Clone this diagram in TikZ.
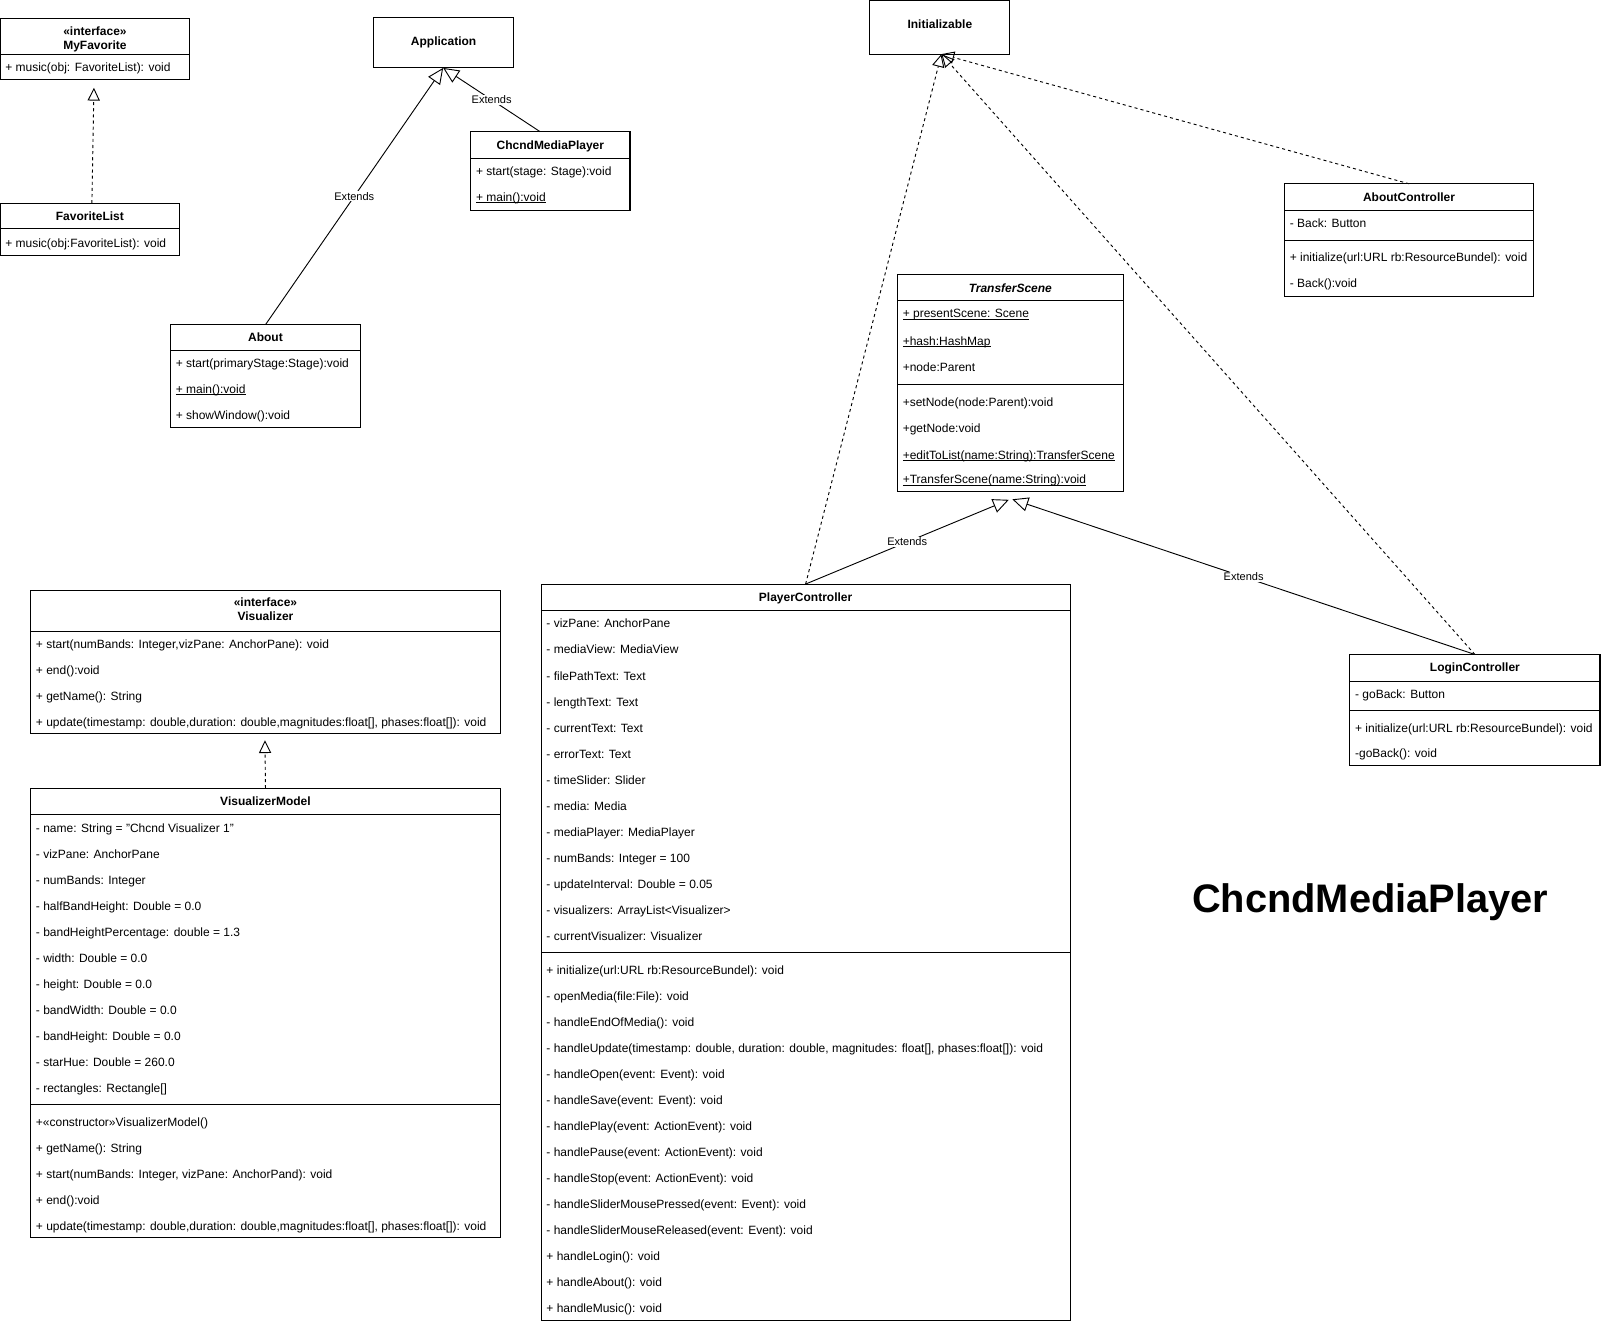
\documentclass[tikz,border=0pt]{standalone}
\usepackage{fontspec}
\setmainfont{Liberation Sans}
\usetikzlibrary{arrows.meta}
\newcommand{\ulin}[1]{\setbox0\hbox{#1}\rlap{\rule[-1.6pt]{\wd0}{0.65pt}}\box0}
\tikzset{
  box/.style={draw=black, line width=1pt, anchor=north west, inner sep=0pt, outer sep=0pt},
  rowtxt/.style={anchor=west, inner sep=0pt, text height=8.5pt, text depth=0.5pt, font=\fontsize{11.75}{14}\selectfont},
  hdr/.style={anchor=center, inner sep=0pt, text height=8.5pt, text depth=0.5pt, font=\fontsize{11.75}{14}\selectfont\bfseries},
  divline/.style={line width=1pt},
  gen/.style={line width=0.9pt, -{Triangle[open,length=15.5pt,width=14pt,line width=0.9pt]}},
  real/.style={line width=0.9pt, dash pattern=on 3pt off 3pt, -{Triangle[open,length=12.5pt,width=12pt,line width=0.9pt]}},
  lbl/.style={fill=white, inner sep=1pt, font=\fontsize{10.8}{12}\selectfont},
}
\begin{document}
\begin{tikzpicture}[x=1pt,y=-1pt]
\useasboundingbox (0,0) rectangle (1568,1296);

% ---------- MyFavorite ----------
\node[box, minimum width=185.5pt, minimum height=60pt] (myfav) at (0.5,18) {};
\node[hdr] (myfavS) at (93,31) {«interface»};
\node[hdr] (myfavN) at (93,44) {MyFavorite};
\draw[divline] (0.5,53) -- (186,53);
\node[rowtxt] (myfavR1) at (5,66) {+ music(obj: FavoriteList): void};

% ---------- FavoriteList ----------
\node[box, minimum width=175.5pt, minimum height=51pt] (favlist) at (0.5,199) {};
\node[hdr] (favlistN) at (88,212) {FavoriteList};
\draw[divline] (0.5,224) -- (176,224);
\node[rowtxt] (favlistR1) at (5,238) {+ music(obj:FavoriteList): void};

% ---------- Application ----------
\node[box, minimum width=137pt, minimum height=49pt] (app) at (366,17) {};
\node[hdr] (appN) at (434.5,41) {Application};

% ---------- ChcndMediaPlayer class ----------
\node[box, minimum width=156pt, minimum height=77pt] (cmp) at (461,129) {};
\node[hdr] (cmpN) at (539,142) {ChcndMediaPlayer};
\draw[divline] (461,155) -- (617,155);
\node[rowtxt] (cmpR1) at (466,168) {+ start(stage: Stage):void};
\node[rowtxt] (cmpR2) at (466,193) {\ulin{+ main():void}};

% ---------- About ----------
\node[box, minimum width=186pt, minimum height=101pt] (about) at (167,318) {};
\node[hdr] (aboutN) at (260,330) {About};
\draw[divline] (167,343) -- (353,343);
\node[rowtxt] (aboutR1) at (172,356) {+ start(primaryStage:Stage):void};
\node[rowtxt] (aboutR2) at (172,381) {\ulin{+ main():void}};
\node[rowtxt] (aboutR3) at (172,407) {+ showWindow():void};

% ---------- Initializable ----------
\node[box, minimum width=137pt, minimum height=52.5pt] (init) at (852,0.5) {};
\node[hdr] (initN) at (920.5,24) {Initializable};

% ---------- TransferScene ----------
\node[box, minimum width=221pt, minimum height=212pt] (ts) at (879,269) {};
\node[hdr, font=\fontsize{11.75}{14}\selectfont\bfseries\itshape] (tsN) at (989.5,282) {TransferScene};
\draw[divline] (879,294) -- (1100,294);
\node[rowtxt] (tsA1) at (884,307) {\ulin{+ presentScene: Scene}};
\node[rowtxt] (tsA2) at (884,334) {\ulin{+hash:HashMap}};
\node[rowtxt] (tsA3) at (884,360) {+node:Parent};
\draw[divline] (879,377) -- (1100,377);
\node[rowtxt] (tsM1) at (884,394) {+setNode(node:Parent):void};
\node[rowtxt] (tsM2) at (884,420) {+getNode:void};
\node[rowtxt] (tsM3) at (884,446) {\ulin{+editToList(name:String):TransferScene}};
\node[rowtxt] (tsM4) at (884,470) {\ulin{+TransferScene(name:String):void}};

% ---------- AboutController ----------
\node[box, minimum width=244pt, minimum height=110pt] (ac) at (1258,180) {};
\node[hdr] (acN) at (1380,193) {AboutController};
\draw[divline] (1258,206) -- (1502,206);
\node[rowtxt] (acA1) at (1263,219) {- Back: Button};
\draw[divline] (1258,236) -- (1502,236);
\node[rowtxt] (acM1) at (1263,252) {+ initialize(url:URL rb:ResourceBundel): void};
\node[rowtxt] (acM2) at (1263,278) {- Back():void};

% ---------- LoginController ----------
\node[box, minimum width=245pt, minimum height=109pt] (lc) at (1322,641) {};
\node[hdr] (lcN) at (1444.5,654) {LoginController};
\draw[divline] (1322,667) -- (1567,667);
\node[rowtxt] (lcA1) at (1327,680) {- goBack: Button};
\draw[divline] (1322,696) -- (1567,696);
\node[rowtxt] (lcM1) at (1327,713) {+ initialize(url:URL rb:ResourceBundel): void};
\node[rowtxt] (lcM2) at (1327,738) {-goBack(): void};

% ---------- PlayerController ----------
\node[box, minimum width=518pt, minimum height=721pt] (pc) at (530,572) {};
\node[hdr] (pcN) at (789,585) {PlayerController};
\draw[divline] (530,598) -- (1048,598);
\foreach \txt [count=\i from 0] in {
  {- vizPane: AnchorPane},
  {- mediaView: MediaView},
  {- filePathText: Text},
  {- lengthText: Text},
  {- currentText: Text},
  {- errorText: Text},
  {- timeSlider: Slider},
  {- media: Media},
  {- mediaPlayer: MediaPlayer},
  {- numBands: Integer = 100},
  {- updateInterval: Double = 0.05},
  {- visualizers: ArrayList<Visualizer>},
  {- currentVisualizer: Visualizer}}
  {\node[rowtxt] (pcA\i) at (535,{611+25.5*\i}) {\txt};}
\draw[divline] (530,933) -- (1048,933);
\foreach \txt [count=\i from 0] in {
  {+ initialize(url:URL rb:ResourceBundel): void},
  {- openMedia(file:File): void},
  {- handleEndOfMedia(): void},
  {- handleUpdate(timestamp: double, duration: double, magnitudes: float[], phases:float[]): void},
  {- handleOpen(event: Event): void},
  {- handleSave(event: Event): void},
  {- handlePlay(event: ActionEvent): void},
  {- handlePause(event: ActionEvent): void},
  {- handleStop(event: ActionEvent): void},
  {- handleSliderMousePressed(event: Event): void},
  {- handleSliderMouseReleased(event: Event): void},
  {+ handleLogin(): void},
  {+ handleAbout(): void},
  {+ handleMusic(): void}}
  {\node[rowtxt] (pcM\i) at (535,{950+25.5*\i}) {\txt};}

% ---------- Visualizer ----------
\node[box, minimum width=460pt, minimum height=140pt] (viz) at (30,578) {};
\node[hdr] (vizS) at (260,590) {«interface»};
\node[hdr] (vizN) at (260,604) {Visualizer};
\draw[divline] (30,618) -- (490,618);
\foreach \txt [count=\i from 0] in {
  {+ start(numBands: Integer,vizPane: AnchorPane): void},
  {+ end():void},
  {+ getName(): String},
  {+ update(timestamp: double,duration: double,magnitudes:float[], phases:float[]): void}}
  {\node[rowtxt] (vizM\i) at (35,{631+25.5*\i}) {\txt};}

% ---------- VisualizerModel ----------
\node[box, minimum width=460pt, minimum height=440pt] (vm) at (30,772) {};
\node[hdr] (vmN) at (260,785) {VisualizerModel};
\draw[divline] (30,798) -- (490,798);
\foreach \txt [count=\i from 0] in {
  {- name: String = "Chcnd Visualizer 1"},
  {- vizPane: AnchorPane},
  {- numBands: Integer},
  {- halfBandHeight: Double = 0.0},
  {- bandHeightPercentage: double = 1.3},
  {- width: Double = 0.0},
  {- height: Double = 0.0},
  {- bandWidth: Double = 0.0},
  {- bandHeight: Double = 0.0},
  {- starHue: Double = 260.0},
  {- rectangles: Rectangle[]}}
  {\node[rowtxt] (vmA\i) at (35,{811+25.5*\i}) {\txt};}
\draw[divline] (30,1082) -- (490,1082);
\foreach \txt [count=\i from 0] in {
  {+«constructor»VisualizerModel()},
  {+ getName(): String},
  {+ start(numBands: Integer, vizPane: AnchorPand): void},
  {+ end():void},
  {+ update(timestamp: double,duration: double,magnitudes:float[], phases:float[]): void}}
  {\node[rowtxt] (vmM\i) at (35,{1099+25.5*\i}) {\txt};}

% ---------- Title ----------
\node[inner sep=0pt, font=\fontsize{39}{45}\selectfont\bfseries] (title) at (1342,884) {ChcndMediaPlayer};

% ---------- connector end points ----------
\coordinate (cmpTop) at (529,129);
\coordinate (appTip) at (434,66.5);
\coordinate (tsTipA) at (988,489.5);
\coordinate (tsTipB) at (991.5,489);
\coordinate (initTip) at (922,53);
\coordinate (favTop) at (90,199);
\coordinate (favTip) at (92,86);
\coordinate (vizTip) at (259.5,725);

% ---------- connectors ----------
\draw[gen] (about.north) -- node[lbl] (lblA) {Extends} (appTip);
\draw[gen] (cmpTop) -- node[lbl] (lblB) {Extends} (appTip);
\draw[gen] (pc.north) -- node[lbl] (lblC) {Extends} (tsTipA);
\draw[gen] (lc.north) -- node[lbl] (lblD) {Extends} (tsTipB);
\draw[real] (pc.north) -- (initTip);
\draw[real] (lc.north) -- (initTip);
\draw[real] (ac.north) -- (initTip);
\draw[real] (favTop) -- (favTip);
\draw[real] (vm.north) -- (vizTip);
\end{tikzpicture}
\end{document}
